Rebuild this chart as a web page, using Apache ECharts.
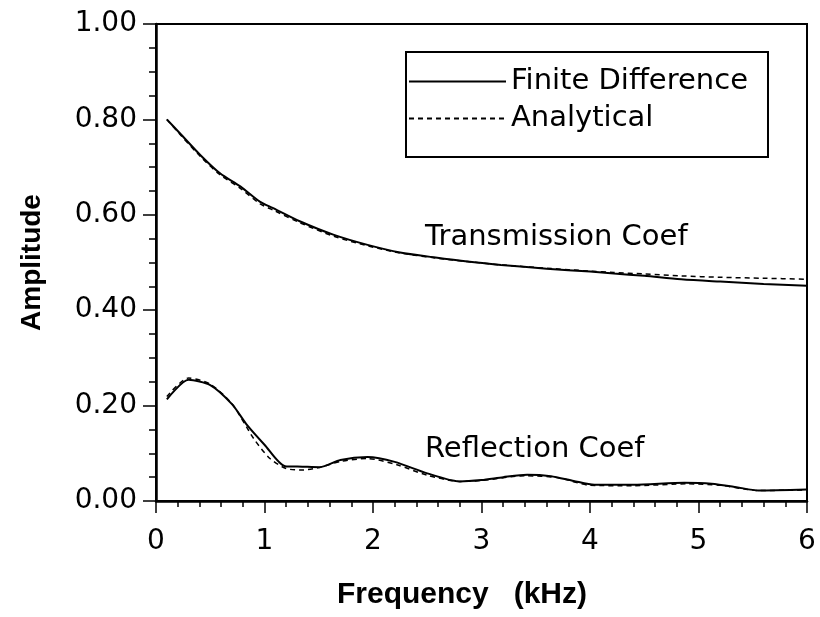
<!DOCTYPE html>
<html>
<head>
<meta charset="utf-8">
<script src="https://cdn.jsdelivr.net/npm/echarts@6/dist/echarts.min.js"></script>
<style>
  html, body { margin: 0; padding: 0; background: #fff; }
  #chart { width: 820px; height: 617px; }
</style>
</head>
<body>
<div id="chart"></div>
<script>
// transmission coefficient (frequency in kHz)
const transFreq = [0.1, 0.22, 0.41, 0.59, 0.78, 0.96, 1.08, 1.33, 1.64, 1.95, 2.25, 2.56, 2.87, 3.18, 3.6, 4.0, 4.22, 4.5, 4.84, 5.2, 5.6, 6.0];
const transFD   = [0.800, 0.771, 0.725, 0.687, 0.659, 0.627, 0.614, 0.586, 0.558, 0.537, 0.521, 0.511, 0.502, 0.495, 0.487, 0.481, 0.477, 0.472, 0.465, 0.460, 0.455, 0.451];
const transAn   = [0.800, 0.769, 0.722, 0.684, 0.655, 0.623, 0.610, 0.583, 0.555, 0.535, 0.520, 0.510, 0.502, 0.495, 0.488, 0.482, 0.479, 0.476, 0.472, 0.469, 0.467, 0.465];

// reflection coefficient
const reflFreqFD = [0.1, 0.3, 0.5, 0.7, 0.84, 1.0, 1.19, 1.35, 1.51, 1.7, 1.95, 2.2, 2.5, 2.8, 3.0, 3.2, 3.42, 3.64, 3.85, 4.04, 4.4, 4.87, 5.12, 5.35, 5.55, 6.0];
const reflFD     = [0.213, 0.254, 0.243, 0.203, 0.159, 0.118, 0.073, 0.072, 0.071, 0.086, 0.092, 0.082, 0.058, 0.041, 0.044, 0.050, 0.055, 0.052, 0.042, 0.034, 0.034, 0.038, 0.036, 0.029, 0.022, 0.024];
const reflFreqAn = [0.1, 0.3, 0.5, 0.7, 0.9, 1.05, 1.2, 1.36, 1.5, 1.7, 1.95, 2.22, 2.5, 2.8, 3.0, 3.4, 3.7, 4.0, 4.4, 4.9, 5.2, 5.55, 6.0];
const reflAn     = [0.219, 0.258, 0.245, 0.204, 0.131, 0.089, 0.068, 0.065, 0.070, 0.083, 0.089, 0.076, 0.054, 0.041, 0.043, 0.053, 0.049, 0.033, 0.032, 0.036, 0.033, 0.022, 0.023];

const xTicks = [0, 1, 2, 3, 4, 5, 6];
const yTicks = ['0.00', '0.20', '0.40', '0.60', '0.80', '1.00'];

const FONT = 'DejaVu Sans';
const TITLE_FONT = 'Liberation Sans';

function pairs(xs, ys) {
    return xs.map((x, i) => [x, ys[i]]);
}

const solid = { color: '#000', width: 2, type: 'solid' };
const dashed = { color: '#000', width: 1.5, type: [5, 4] };

var myChart = echarts.init(document.getElementById('chart'));

const option = {
    backgroundColor: '#fff',
    animation: false,
    grid: {
        left: 156,
        right: 13,
        top: 24,
        bottom: 116,
        show: true,
        borderColor: '#000',
        borderWidth: 2
    },
    legend: {
        orient: 'vertical',
        left: 406,
        top: 52,
        padding: [15, 20, 24, 2],
        itemGap: 8,
        itemWidth: 97,
        itemHeight: 14,
        borderColor: '#000',
        borderWidth: 2,
        backgroundColor: '#fff',
        itemStyle: { opacity: 0 },
        textStyle: { fontFamily: FONT, fontSize: 29, color: '#000' },
        data: ['Finite Difference', 'Analytical']
    },
    xAxis: {
        type: 'value',
        min: xTicks[0],
        max: xTicks[xTicks.length - 1],
        interval: 1,
        name: 'Frequency   (kHz)',
        nameLocation: 'middle',
        nameGap: 79,
        nameMoveOverlap: false,
        nameTextStyle: {
            fontFamily: TITLE_FONT, fontWeight: 'bold', fontSize: 30, color: '#000',
            padding: [0, 39, 0, 0]
        },
        axisLine: { lineStyle: { color: '#000', width: 2.5 } },
        axisTick: { show: true, length: 12, lineStyle: { color: '#000', width: 1.5 } },
        minorTick: { show: true, splitNumber: 5, length: 6, lineStyle: { color: '#000', width: 1.5 } },
        splitLine: { show: false },
        axisLabel: { fontFamily: FONT, fontSize: 28, color: '#000', margin: 27 }
    },
    yAxis: {
        type: 'value',
        min: 0,
        max: 1,
        interval: 0.2,
        name: 'Amplitude',
        nameLocation: 'middle',
        nameGap: 110,
        nameMoveOverlap: false,
        nameRotate: 90,
        nameTextStyle: { fontFamily: TITLE_FONT, fontWeight: 'bold', fontSize: 28, color: '#000' },
        axisLine: { lineStyle: { color: '#000', width: 2.5 } },
        axisTick: { show: true, length: 13, lineStyle: { color: '#000', width: 1.5 } },
        minorTick: { show: true, splitNumber: 4, length: 7, lineStyle: { color: '#000', width: 1.5 } },
        splitLine: { show: false },
        axisLabel: {
            fontFamily: FONT, fontSize: 28, color: '#000', margin: 19,
            formatter: v => yTicks[Math.round(v / 0.2)]
        }
    },
    graphic: [
        { type: 'text', x: 425, y: 237, style: { text: 'Transmission Coef', fontFamily: FONT, fontSize: 29, fill: '#000', verticalAlign: 'middle' } },
        { type: 'text', x: 425, y: 449, style: { text: 'Reflection Coef', fontFamily: FONT, fontSize: 29, fill: '#000', verticalAlign: 'middle' } }
    ],
    series: [
        { name: 'Finite Difference', type: 'line', symbol: 'none', smooth: 0.3, lineStyle: solid, color: '#000', data: pairs(transFreq, transFD) },
        { name: 'Analytical', type: 'line', symbol: 'none', smooth: 0.3, lineStyle: dashed, color: '#000', data: pairs(transFreq, transAn) },
        { name: 'Finite Difference', type: 'line', symbol: 'none', smooth: 0.25, lineStyle: solid, color: '#000', data: pairs(reflFreqFD, reflFD) },
        { name: 'Analytical', type: 'line', symbol: 'none', smooth: 0.25, lineStyle: dashed, color: '#000', data: pairs(reflFreqAn, reflAn) }
    ]
};

option && myChart.setOption(option);
</script>
</body>
</html>
